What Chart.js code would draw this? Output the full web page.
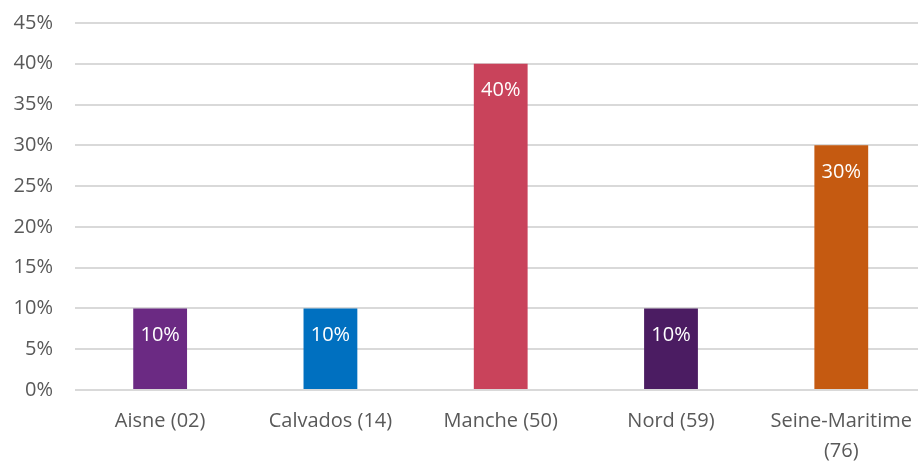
<!DOCTYPE html>
<html>
<head>
<meta charset="utf-8">
<script src="https://cdn.jsdelivr.net/npm/chart.js@4"></script>
<style>
  html, body { margin: 0; padding: 0; background: #fff; overflow: hidden; }
  #wrap { width: 928px; height: 461px; }
</style>
</head>
<body>
<div id="wrap"><canvas id="chart"></canvas></div>
<script>
const categories = ['Aisne (02)', 'Calvados (14)', 'Manche (50)', 'Nord (59)', ['Seine-Maritime', '(76)']];
const values = [10, 10, 40, 10, 30];
const barColors = ['#6B2A83', '#0070C0', '#C9435B', '#4B1C62', '#C55A11'];
const yTicks = [0, 5, 10, 15, 20, 25, 30, 35, 40, 45];

const FONT = '"Open Sans", sans-serif';

// white value labels inside the top of each bar
const barLabels = {
    id: 'barLabels',
    afterDatasetsDraw(chart) {
        const ctx = chart.ctx;
        const meta = chart.getDatasetMeta(0);
        ctx.save();
        ctx.fillStyle = '#ffffff';
        ctx.font = '20px ' + FONT;
        ctx.textAlign = 'center';
        ctx.textBaseline = 'middle';
        meta.data.forEach((bar, i) => {
            ctx.fillText(values[i] + '%', bar.x, bar.y + 27);
        });
        ctx.restore();
    }
};

new Chart(document.getElementById('chart'), {
    type: 'bar',
    data: {
        labels: categories,
        datasets: [{
            data: values,
            backgroundColor: barColors,
            barPercentage: 0.316,
            categoryPercentage: 1
        }]
    },
    options: {
        responsive: true,
        maintainAspectRatio: false,
        animation: false,
        layout: { padding: { top: 23, bottom: 0, left: 0, right: 0 } },
        plugins: { legend: { display: false }, tooltip: { enabled: false } },
        scales: {
            y: {
                min: 0,
                max: 45,
                afterBuildTicks: axis => { axis.ticks = yTicks.map(v => ({ value: v })); },
                border: { display: false },
                grid: { color: '#D9D9D9', lineWidth: 2, drawTicks: false },
                ticks: {
                    padding: 22,
                    color: '#595959',
                    font: { family: FONT, size: 20 },
                    callback: v => v + '%'
                },
                afterFit: axis => {
                    axis.width = 75;
                    axis.paddingTop = 0;
                    axis.paddingBottom = 0;
                }
            },
            x: {
                border: { display: false },
                grid: { display: false, drawTicks: false },
                ticks: {
                    padding: 16,
                    color: '#595959',
                    maxRotation: 0,
                    autoSkip: false,
                    font: { family: FONT, size: 20, lineHeight: 1.5 }
                },
                afterFit: axis => { axis.height = 71; }
            }
        }
    },
    plugins: [barLabels]
});
</script>
</body>
</html>
